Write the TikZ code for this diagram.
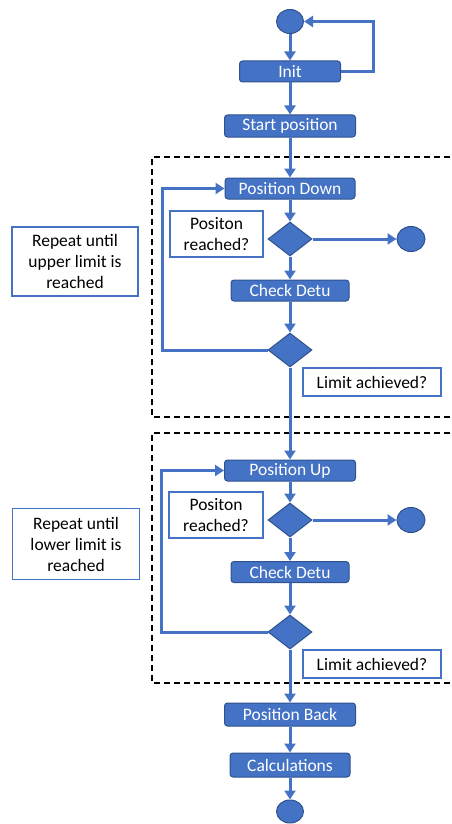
\documentclass[tikz,border=0pt]{standalone}
\usepackage{fontspec}
\setmainfont{Carlito}
\usetikzlibrary{arrows.meta,shapes.geometric}
\definecolor{ob}{HTML}{4472C4}
\definecolor{obd}{HTML}{2F528F}
\begin{document}
\begin{tikzpicture}[x=1pt,y=-1pt,
 proc/.style={draw=obd,line width=1pt,fill=ob,rounded corners=3pt,text=white,font=\fontsize{17.5}{21}\selectfont,inner sep=0pt,minimum height=21pt},
 dec/.style={diamond,draw=obd,line width=1pt,fill=ob,minimum width=44pt,minimum height=34pt,inner sep=0pt},
 term/.style={ellipse,draw=obd,line width=1pt,fill=ob,minimum width=27pt,minimum height=24pt,inner sep=0pt},
 note/.style={draw=ob,line width=1.3pt,fill=white,align=center,font=\fontsize{17.5}{21}\selectfont,inner sep=0pt},
 flow/.style={draw=ob,line width=3pt,-{Triangle[width=11pt,length=9pt]}},
 frame/.style={draw=black,line width=1.5pt,dash pattern=on 6pt off 4pt}]
\useasboundingbox (0,0) rectangle (452,824);
% frames
\draw[frame] (470,157) -- (152,157) -- (152,417) -- (470,417);
\draw[frame] (470,433) -- (152,433) -- (152,683) -- (470,683);
% top
\node[term] (s) at (290,21.5) {};
\node[proc,minimum width=101pt] (init) at (290,71.5) {Init};
\node[proc,minimum width=131pt,minimum height=22pt] (start) at (290,126) {Start position};
% section 1
\node[proc,minimum width=130pt] (pd) at (290,188.5) {Position Down};
\node[dec] (d1) at (290,239) {};
\node[term,minimum width=28pt,minimum height=25pt] (e1) at (411,239) {};
\node[note,minimum width=93pt,minimum height=46pt] (n1) at (216.5,234) {Positon\\reached?};
\node[proc,minimum width=118pt] (cd1) at (290,290.5) {Check Detu};
\node[dec] (d2) at (290,350) {};
\node[note,minimum width=138pt,minimum height=28pt] (l1) at (372,382) {Limit achieved?};
\node[note,minimum width=126pt,minimum height=69pt] (r1) at (75,261.5) {Repeat until\\upper limit is\\reached};
% section 2
\node[proc,minimum width=131pt] (pu) at (290,470.5) {Position Up};
\node[dec] (d3) at (290,520) {};
\node[term,minimum width=28pt,minimum height=25pt] (e2) at (411,520) {};
\node[note,minimum width=94pt,minimum height=46pt] (n2) at (216,515) {Positon\\reached?};
\node[proc,minimum width=118pt] (cd2) at (290,572) {Check Detu};
\node[dec] (d4) at (290,632) {};
\node[note,minimum width=138pt,minimum height=28pt] (l2) at (372,664) {Limit achieved?};
\node[note,minimum width=127pt,minimum height=71pt] (r2) at (76,544) {Repeat until\\lower limit is\\reached};
% bottom
\node[proc,minimum width=131pt,minimum height=23pt] (pb) at (290,714.5) {Position Back};
\node[proc,minimum width=120pt,minimum height=24pt] (calc) at (290,765) {Calculations};
\node[term,minimum height=23pt] (t) at (290,811.5) {};
% connectors
\draw[flow] (s) -- (init);
\draw[flow] (init.east) -- ++(32,0) |- (s.east);
\draw[flow] (init) -- (start);
\draw[flow] (start) -- (pd);
\draw[flow] (pd) -- (d1);
\draw[flow] (d1) -- (e1);
\draw[flow] (d1) -- (cd1);
\draw[flow] (cd1) -- (d2);
\draw[flow] (d2.west) -- ++(-105,0) |- (pd.west);
\draw[flow] (d2) -- (pu);
\draw[flow] (pu) -- (d3);
\draw[flow] (d3) -- (e2);
\draw[flow] (d3) -- (cd2);
\draw[flow] (cd2) -- (d4);
\draw[flow] (d4.west) -- ++(-106,0) |- (pu.west);
\draw[flow] (d4) -- (pb);
\draw[flow] (pb) -- (calc);
\draw[flow] (calc) -- (t);
\end{tikzpicture}
\end{document}
